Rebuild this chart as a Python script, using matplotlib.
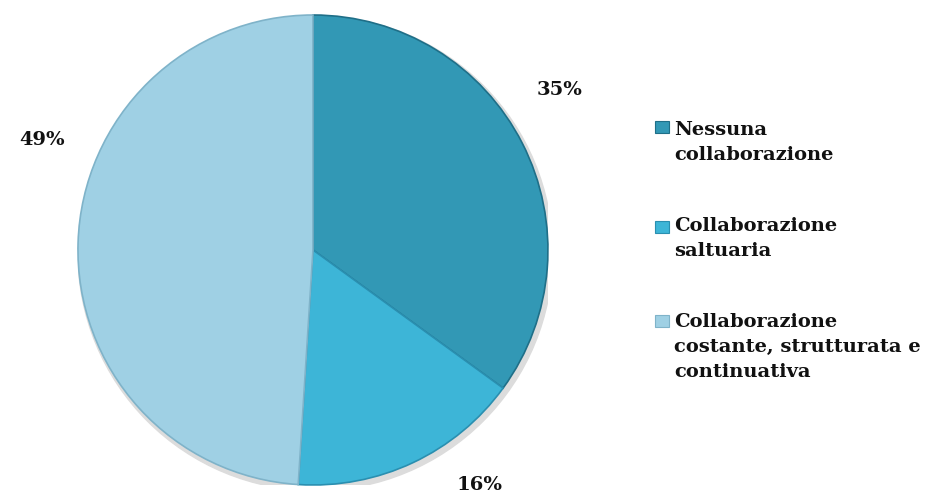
import matplotlib.pyplot as plt
from matplotlib.patches import Rectangle

# Dati del grafico a torta
categorie = ['Nessuna\ncollaborazione',
             'Collaborazione\nsaltuaria',
             'Collaborazione\ncostante, strutturata e\ncontinuativa']
percentuali = [35, 16, 49]
colori = ['#3298B5', '#3DB5D7', '#9FD0E4']
bordi = ['#1F6F88', '#2A8FB0', '#7FB3C9']

# Posizioni delle etichette percentuali (in unità del raggio)
pos_etichette = [(1.05, 0.68), (0.71, -1.0), (-1.153, 0.468)]

plt.rcParams['font.family'] = ['DejaVu Serif']

fig = plt.figure(figsize=(9.27, 4.95), dpi=100)
ax = fig.add_axes([0.0841, 0.0202, 0.507, 0.9495])

# Ombra leggera sotto la torta
ombra = plt.Circle((0.01, -0.014), 1.01, color='#dcdcdc', zorder=0)
ax.add_patch(ombra)

wedges, _ = ax.pie(percentuali, colors=colori, startangle=90, counterclock=False,
                   radius=1.0, wedgeprops=dict(linewidth=1.2))
for w, b in zip(wedges, bordi):
    w.set_edgecolor(b)
    w.set_zorder(2)

for val, (x, y) in zip(percentuali, pos_etichette):
    ax.text(x, y, f'{val}%', ha='center', va='center', fontsize=14,
            fontweight='bold', color='#111111')

ax.set_xlim(-1, 1)
ax.set_ylim(-1, 1)
ax.set_aspect('equal')
ax.axis('off')

# Legenda disegnata a mano a destra
y_testo = [0.7556, 0.5616, 0.3677]
y_marker = [0.7434, 0.5414, 0.3515]
for testo, col, b, yt, ym in zip(categorie, colori, bordi, y_testo, y_marker):
    fig.patches.append(Rectangle((0.7066, ym - 0.012), 0.0151, 0.024,
                                 transform=fig.transFigure, facecolor=col,
                                 edgecolor=b, linewidth=0.8))
    fig.text(0.727, yt, testo, ha='left', va='top', fontsize=14,
             fontweight='bold', color='#111111', linespacing=1.5)

fig.savefig('out.png', dpi=100, facecolor='white')
